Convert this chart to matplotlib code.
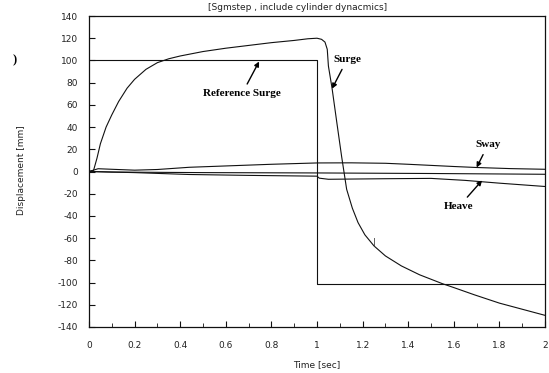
import matplotlib
matplotlib.use("Agg")
import matplotlib.pyplot as plt
from matplotlib.ticker import MultipleLocator, FormatStrFormatter

# ---- data ----
surge_t = [0.0, 0.02, 0.035, 0.05, 0.075, 0.1, 0.13, 0.167, 0.2, 0.25, 0.3, 0.35,
           0.4, 0.5, 0.6, 0.7, 0.8, 0.9, 0.96, 1.0, 1.02, 1.035, 1.045, 1.05,
           1.066, 1.087, 1.108, 1.13, 1.155, 1.18, 1.21, 1.25, 1.3,
           1.37, 1.45, 1.55, 1.6, 1.69, 1.8, 1.9, 2.0]
surge_v = [0, 1, 12, 25, 40, 51, 63, 75, 83, 92, 98, 101.5,
           104, 108, 111, 113.5, 116, 118, 119.5, 120, 119, 116.5, 110, 95,
           75, 44, 13.5, -16, -33, -46, -57, -67, -76,
           -85, -93, -101, -104.5, -111, -118.5, -124, -129.5]

ref_t = [0.0, 1.0, 1.0, 2.0]
ref_v = [100, 100, -101, -101]

sway_t = [0.0, 0.04, 0.1, 0.2, 0.3, 0.44, 0.6, 0.8, 1.0, 1.15, 1.3, 1.4, 1.5, 1.6,
          1.7, 1.85, 2.0]
sway_v = [0, 2.5, 2, 1.2, 1.8, 3.8, 5, 6.5, 7.7, 7.8, 7.4, 6.5, 5.5, 4.5,
          3.6, 2.6, 2]

mid_t = [0.0, 0.1, 0.5, 1.0, 1.5, 2.0]
mid_v = [0, -0.5, -1, -1.3, -1.8, -2.5]

heave_t = [0.0, 0.2, 0.44, 0.7, 1.0, 1.01, 1.05, 1.3, 1.5, 1.65, 1.8, 2.0]
heave_v = [0, -1, -2.7, -3.5, -4.2, -6, -7, -6.5, -6.2, -8, -10.5, -13.5]

x_ticks = [0, 0.2, 0.4, 0.6, 0.8, 1.0, 1.2, 1.4, 1.6, 1.8, 2.0]
y_ticks = list(range(-140, 141, 20))

title = "[Sgmstep , include cylinder dynacmics]"
xlabel = "Time [sec]"
ylabel = "Displacement [mm]"

# ---- figure ----
fig = plt.figure(figsize=(5.49, 3.73), dpi=100)
ax = fig.add_axes([89/549, 1-327/373, (545-89)/549, (327-16)/373])

lc = "#111111"
ax.plot(surge_t, surge_v, color=lc, lw=0.8)
ax.plot(ref_t, ref_v, color=lc, lw=0.8)
ax.plot(sway_t, sway_v, color=lc, lw=0.8)
ax.plot(mid_t, mid_v, color=lc, lw=0.8)
ax.plot(heave_t, heave_v, color=lc, lw=0.8)

ax.set_xlim(0, 2)
ax.set_ylim(-140, 140)
ax.set_xticks(x_ticks)
ax.xaxis.set_minor_locator(MultipleLocator(0.1))
ax.set_yticks(y_ticks)
ax.xaxis.set_major_formatter(FormatStrFormatter('%g'))
ax.yaxis.set_major_formatter(FormatStrFormatter('%d'))

ax.tick_params(axis='both', which='both', direction='in', colors=lc,
               labelsize=6.5, labelcolor='#222222')
ax.tick_params(axis='x', which='major', length=4, pad=10)
ax.tick_params(axis='x', which='minor', length=3)
ax.tick_params(axis='y', which='major', length=4, pad=8)
for s in ax.spines.values():
    s.set_linewidth(0.9)
    s.set_color(lc)

fig.text(298/549, 1-7/373, title, ha='center', va='center', fontsize=6.5, color='#222222')
fig.text(317/549, 1-365/373, xlabel, ha='center', va='center', fontsize=6.5, color='#222222')
fig.text(22/549, 1-170/373, ylabel, ha='center', va='center', fontsize=6.5,
         rotation=90, color='#222222')
fig.text(15/549, 1-60/373, ")", ha='center', va='center', fontsize=9,
         family='Liberation Serif', weight='bold')

ann = dict(fontsize=8, family='Liberation Serif', weight='bold', ha='center',
           va='center', color='black')
arr = dict(arrowstyle='-|>', color='black', lw=1.0, mutation_scale=7,
           shrinkA=2, shrinkB=0)
ax.annotate("Reference Surge", xy=(0.746, 99), xytext=(0.671, 70),
            arrowprops=arr, **ann)
ax.annotate("Surge", xy=(1.066, 74.6), xytext=(1.132, 100.7),
            arrowprops=arr, **ann)
ax.annotate("Sway", xy=(1.70, 3.6), xytext=(1.75, 24),
            arrowprops=arr, **ann)
ax.annotate("Heave", xy=(1.724, -8), xytext=(1.623, -31.5),
            arrowprops=arr, **ann)
ax.text(1.254, -64, "|", fontsize=6, ha='center', va='center', color='#333333')

fig.savefig("out.png", dpi=100)
